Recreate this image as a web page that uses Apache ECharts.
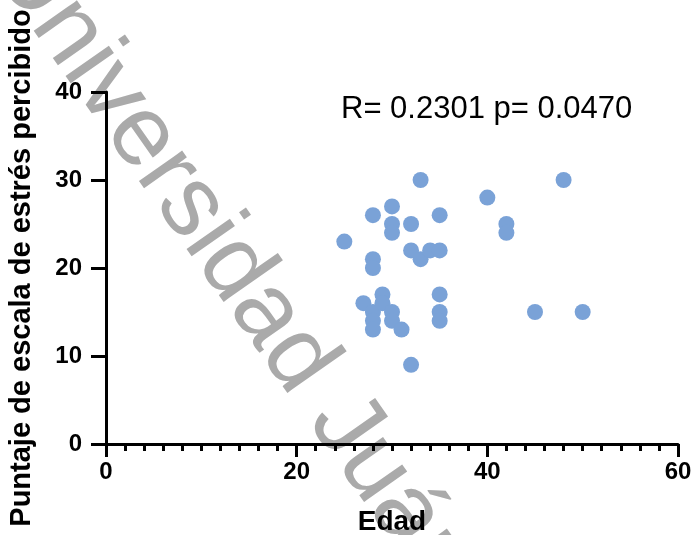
<!DOCTYPE html>
<html>
<head>
<meta charset="utf-8">
<script src="https://cdn.jsdelivr.net/npm/echarts@6/dist/echarts.min.js"></script>
<style>
html,body{margin:0;padding:0;background:#fff;}
#chart{width:699px;height:535px;}
</style>
</head>
<body>
<div id="chart"></div>
<script>
// Data
var edad = [25,27,28,28,28,28,28,28,29,29,30,30,30,30,30,31,32,32,32,33,33,34,35,35,35,35,35,40,42,42,45,48,50];
var estres = [23,16,26,21,20,15,14,13,17,16,27,25,24,15,14,13,25,22,9,30,21,22,26,22,17,15,14,28,25,24,15,30,15];
var xTicks = [0,20,40,60];
var yTicks = [0,10,20,30,40];
var annotation = 'R= 0.2301 p= 0.0470';
var watermark = 'Universidad Juárez Autónoma de Tabasco';

var points = edad.map(function(x,i){ return [x, estres[i]]; });

var chart = echarts.init(document.getElementById('chart'), null, {renderer:'canvas'});
var font = 'Arial, "Liberation Sans", Helvetica, sans-serif';
chart.setOption({
  animation:false,
  backgroundColor:'#ffffff',
  grid:{left:106,right:21,top:92,bottom:91,containLabel:false,outerBoundsMode:'none'},
  xAxis:{
    type:'value', min:xTicks[0], max:xTicks[xTicks.length-1], interval:20,
    name:'Edad', nameLocation:'middle', nameGap:64,
    nameTextStyle:{fontFamily:font,fontWeight:'bold',fontSize:28,color:'#000'},
    axisLine:{show:true,onZero:false,lineStyle:{color:'#000',width:3}},
    axisTick:{show:true,length:13,lineStyle:{color:'#000',width:3}},
    minorTick:{show:true,splitNumber:10,length:7,lineStyle:{color:'#000',width:3}},
    axisLabel:{fontFamily:font,fontWeight:'bold',fontSize:24,color:'#000',margin:16},
    splitLine:{show:false}
  },
  yAxis:{
    type:'value', min:yTicks[0], max:yTicks[yTicks.length-1], interval:10,
    name:'Puntaje de escala de estrés percibido', nameLocation:'middle', nameGap:70,
    nameTextStyle:{fontFamily:font,fontWeight:'bold',fontSize:29,color:'#000'},
    axisLine:{show:true,onZero:false,lineStyle:{color:'#000',width:3}},
    axisTick:{show:true,length:15,lineStyle:{color:'#000',width:3}},
    axisLabel:{fontFamily:font,fontWeight:'bold',fontSize:24,color:'#000',margin:24},
    splitLine:{show:false}
  },
  graphic:[
    {type:'text', z:-10, x:11, y:-50, rotation:-55*Math.PI/180,
     style:{text:watermark, fill:'#aaaaaa', font:'100px "Liberation Sans", Arial, sans-serif', align:'left', verticalAlign:'middle'}},
    {type:'text', z:10, left:341, top:94,
     style:{text:annotation, fill:'#000', font:'31px Arial, "Liberation Sans", sans-serif'}}
  ],
  series:[{
    type:'scatter', data:points, symbol:'circle', symbolSize:16,
    itemStyle:{color:'#7aa2d7',opacity:1}, z:5
  }]
});
</script>
</body>
</html>
